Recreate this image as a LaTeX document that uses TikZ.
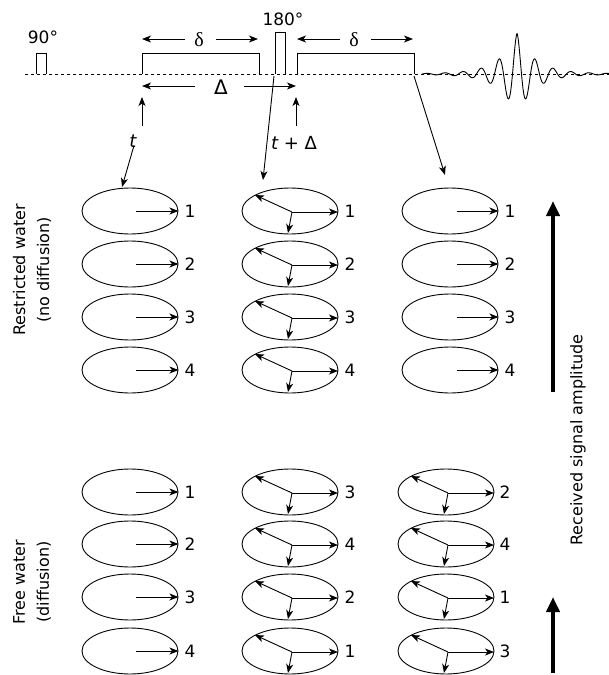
\documentclass[tikz,border=0pt]{standalone}
\usepackage{fontspec}
\setmainfont{DejaVu Sans}
\newfontfamily\serifgreek{Liberation Serif}
\usetikzlibrary{arrows.meta,shapes.geometric}

\begin{document}
\begin{tikzpicture}[x=1pt,y=-1pt,
  every node/.style={font=\fontsize{16}{24}\selectfont, inner sep=0pt},
  num/.style={font=\fontsize{17}{20}\selectfont},
  thin line/.style={line width=0.9pt},
  tip/.style={thin line,-{Stealth[length=9pt,width=7pt,inset=2.5pt]}},
  vec/.style={thin line,-{Stealth[length=9pt,width=7pt,inset=2.5pt]}},
  oval/.style={draw, thin line, ellipse, minimum width=96pt, minimum height=46pt},
  bigarrow/.style={line width=4pt,-{Triangle[length=15pt,width=13pt]}},
  lbl/.style={rotate=90, align=center},
]
\useasboundingbox (0,0) rectangle (609,675);

% ---------- pulse sequence ----------
\draw[line width=0.8pt, dash pattern=on 3pt off 3pt] (25,74) -- (609,74);
\draw[thin line] (36,74) -- (36,53) -- (46,53) -- (46,74);
\draw[thin line] (142,74) -- (142,53) -- (259,53) -- (259,74);
\draw[thin line] (275,74) -- (275,32) -- (285,32) -- (285,74);
\draw[thin line] (297,74) -- (297,53) -- (414,53) -- (414,74);
\draw[thin line] plot[domain=422:609, samples=500]
  (\x, {74 - (39*exp(-abs(\x-517)/17) + 1.8*exp(-abs(\x-517)/70))*cos(20*(\x-517))});

\node[font=\fontsize{17}{20}\selectfont] (p90) at (43,37) {90°};
\node[font=\fontsize{17}{20}\selectfont] (p180) at (283,19) {180°};

% delta labels
\node (d1) at (199,40) {\serifgreek\fontsize{20}{22}\selectfont δ};
\coordinate (d1l) at (185,39); \coordinate (d1le) at (142,39);
\coordinate (d1r) at (216,39); \coordinate (d1re) at (258,39);
\draw[tip] (d1l) -- (d1le);
\draw[tip] (d1r) -- (d1re);
\node (d2) at (354,40) {\serifgreek\fontsize{20}{22}\selectfont δ};
\coordinate (d2l) at (340,39); \coordinate (d2le) at (297,39);
\coordinate (d2r) at (371,39); \coordinate (d2re) at (413,39);
\draw[tip] (d2l) -- (d2le);
\draw[tip] (d2r) -- (d2re);

% Delta
\node (D) at (221,87) {\fontsize{20}{22}\selectfont Δ};
\coordinate (Dl) at (195,86); \coordinate (Dle) at (142,86);
\coordinate (Dr) at (244,86); \coordinate (Dre) at (296,86);
\draw[tip] (Dl) -- (Dle);
\draw[tip] (Dr) -- (Dre);

% up arrows
\coordinate (u1b) at (142,126); \coordinate (u1t) at (142,97);
\coordinate (u2b) at (296,126); \coordinate (u2t) at (296,97);
\draw[tip] (u1b) -- (u1t);
\draw[tip] (u2b) -- (u2t);

\node[font=\fontsize{18}{20}\selectfont] (t) at (133,141) {\itshape t};
\node[font=\fontsize{18}{20}\selectfont] (tD) at (294,143) {\itshape t\upshape{} + Δ};

% ---------- top block: restricted water ----------
\foreach \r/\y in {1/211,2/264,3/317,4/370} {
  \node[oval] (a\r) at (130,\y) {};
  \draw[vec] (136,\y) -- (a\r.east);
  \node[num] (na\r) at (190,\y) {\r};
  \node[oval] (b\r) at (290,\y) {};
  \draw[vec] (292,\y+1) -- (255,\y-16);
  \draw[vec] (292,\y+1) -- (288,\y+22);
  \draw[vec] (292,\y+1) -- (338,\y+1);
  \node[num] (nb\r) at (350,\y) {\r};
  \node[oval] (c\r) at (450,\y) {};
  \draw[vec] (457,\y) -- (c\r.east);
  \node[num] (nc\r) at (510,\y) {\r};
}

% connectors from sequence to ellipses
\coordinate (e1) at (122,187);
\draw[tip] (t.south) ++(1,-2) -- (e1);
\coordinate (s2) at (274,76); \coordinate (e2) at (263,180);
\draw[tip] (s2) -- (e2);
\coordinate (s3) at (414,76); \coordinate (e3) at (445,175);
\draw[tip] (s3) -- (e3);

% ---------- bottom block: free water ----------
\foreach \r/\y/\m/\n in {1/492/3/2,2/544/4/4,3/597/2/1,4/651/1/3} {
  \node[oval] (f\r) at (130,\y) {};
  \draw[vec] (136,\y) -- (f\r.east);
  \node[num] (nf\r) at (190,\y) {\r};
  \node[oval] (g\r) at (290,\y) {};
  \draw[vec] (292,\y+1) -- (255,\y-16);
  \draw[vec] (292,\y+1) -- (288,\y+22);
  \draw[vec] (292,\y+1) -- (338,\y+1);
  \node[num] (ng\r) at (350,\y) {\m};
  \node[oval] (h\r) at (446,\y) {};
  \draw[vec] (448,\y+1) -- (411,\y-16);
  \draw[vec] (448,\y+1) -- (444,\y+22);
  \draw[vec] (448,\y+1) -- (494,\y+1);
  \node[num] (nh\r) at (505,\y) {\n};
}

% side labels
\node[lbl] (rw) at (32,270) {Restricted water\\(no diffusion)};
\node[lbl] (fw) at (32,582) {Free water\\(diffusion)};
\node[lbl] (rs) at (578,440) {Received signal amplitude};

% thick arrows
\coordinate (ta1) at (553,392); \coordinate (ta2) at (553,201);
\draw[bigarrow] (ta1) -- (ta2);
\coordinate (tb1) at (553,673); \coordinate (tb2) at (553,597);
\draw[bigarrow] (tb1) -- (tb2);
\end{tikzpicture}
\end{document}
